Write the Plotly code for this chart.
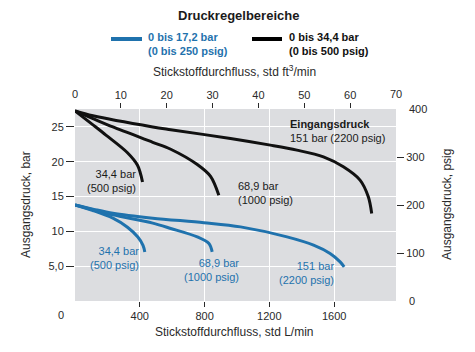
import plotly.graph_objects as go

# ---- data (flow in std L/min, outlet pressure in bar) ----
black_344_flow = [0, 111, 193, 324, 386, 417]
black_344_bar = [27.3, 25.3, 23.8, 21.3, 19.5, 17.1]
black_689_flow = [0, 111, 234, 480, 591, 755, 837, 888]
black_689_bar = [27.3, 26.2, 25.0, 22.8, 21.8, 19.6, 17.9, 15.2]
black_151_flow = [0, 111, 480, 591, 960, 1206, 1370, 1534, 1657, 1760, 1811, 1832]
black_151_bar = [27.3, 26.6, 25.0, 24.6, 23.35, 22.39, 21.67, 20.7, 19.27, 17.36, 14.96, 12.57]

blue_344_flow = [0, 111, 234, 324, 388, 420, 431]
blue_344_bar = [13.8, 13.0, 11.9, 10.6, 9.2, 8.0, 7.05]
blue_689_flow = [0, 111, 234, 480, 591, 755, 827, 847]
blue_689_bar = [13.8, 13.1, 12.37, 11.18, 10.42, 9.21, 8.26, 7.05]
blue_151_flow = [0, 111, 234, 480, 796, 1022, 1309, 1473, 1575, 1637, 1662]
blue_151_bar = [13.8, 13.2, 12.6, 11.9, 11.25, 10.65, 9.21, 8.02, 6.82, 5.62, 4.9]

bottom_ticks = [400, 800, 1200, 1600]
top_ticks = [10, 20, 30, 40, 50, 60]
left_ticks = [5, 10, 15, 20, 25]
left_ticktext = ["5,0", "10", "15", "20", "25"]
right_ticks = [100, 200, 300]

X_MAX_LMIN = 1982   # = 70 ft3/min
Y_MAX_BAR = 27.58   # = 400 psig

BLUE = "#1f72ad"
BLACK = "#111111"
TXT = "#2a2a2a"
FONT = "Liberation Sans, Arial, sans-serif"

fig = go.Figure()
curves = [
    (black_344_flow, black_344_bar, BLACK),
    (black_689_flow, black_689_bar, BLACK),
    (black_151_flow, black_151_bar, BLACK),
    (blue_344_flow, blue_344_bar, BLUE),
    (blue_689_flow, blue_689_bar, BLUE),
    (blue_151_flow, blue_151_bar, BLUE),
]
for fx, fy, c in curves:
    fig.add_trace(go.Scatter(x=fx, y=fy, mode="lines",
                             line=dict(color=c, width=3, shape="spline", smoothing=0.9),
                             showlegend=False, hoverinfo="skip"))
# empty trace to activate secondary axes
fig.add_trace(go.Scatter(x=[], y=[], xaxis="x2", yaxis="y2", showlegend=False))

fig.update_layout(
    width=475, height=352,
    margin=dict(l=75, r=79, t=109, b=51),
    paper_bgcolor="white",
    plot_bgcolor="#dcdde0",
    font=dict(family=FONT, size=11, color=TXT),
    xaxis=dict(range=[0, X_MAX_LMIN], tickvals=bottom_ticks, ticks="outside",
               ticklen=5, tickcolor=TXT, showgrid=True, gridcolor="white",
               gridwidth=1, zeroline=False, showline=False,
               tickfont=dict(size=11, color=TXT)),
    xaxis2=dict(range=[0, 70], overlaying="x", side="top", anchor="y",
                tickvals=top_ticks, ticks="outside", ticklen=5, tickcolor=TXT,
                showgrid=False, zeroline=False, showline=False,
                tickfont=dict(size=11, color=TXT)),
    yaxis=dict(range=[0, Y_MAX_BAR], tickvals=left_ticks, ticktext=left_ticktext,
               ticks="outside", ticklen=8, tickcolor=TXT, showgrid=True,
               gridcolor="white", gridwidth=1, zeroline=False, showline=False,
               tickfont=dict(size=11, color=TXT)),
    yaxis2=dict(range=[0, 400], overlaying="y", side="right", anchor="x",
                tickvals=right_ticks, ticks="outside", ticklen=7, tickcolor=TXT,
                showgrid=False, zeroline=False, showline=False,
                tickfont=dict(size=11, color=TXT)),
)

def px_x(p):
    return (p - 75) / 321.0

def px_y(p):
    return (301 - p) / 192.0

C = dict(xanchor="center", yanchor="middle", showarrow=False)
ann = []
# title and legend
ann.append(dict(text="<b>Druckregelbereiche</b>", x=px_x(239), y=px_y(15),
                xref="paper", yref="paper", font=dict(size=13, color="#1a1a1a"), **C))
ann.append(dict(text="<b>0 bis 17,2 bar<br>(0 bis 250 psig)</b>", x=px_x(146), y=px_y(44),
                xref="paper", yref="paper", showarrow=False, xanchor="left", yanchor="middle",
                align="left", font=dict(size=11, color=BLUE)))
ann.append(dict(text="<b>0 bis 34,4 bar<br>(0 bis 500 psig)</b>", x=px_x(287), y=px_y(44),
                xref="paper", yref="paper", showarrow=False, xanchor="left", yanchor="middle",
                align="left", font=dict(size=11, color="#111111")))
# axis titles
ann.append(dict(text="Stickstoffdurchfluss, std ft<sup>3</sup>/min", x=px_x(234), y=px_y(71),
                xref="paper", yref="paper", font=dict(size=12, color=TXT), **C))
ann.append(dict(text="Stickstoffdurchfluss, std L/min", x=px_x(234), y=px_y(332),
                xref="paper", yref="paper", font=dict(size=12, color=TXT), **C))
ann.append(dict(text="Ausgangsdruck, bar", x=px_x(26), y=px_y(205), textangle=-90,
                xref="paper", yref="paper", font=dict(size=12, color=TXT), **C))
ann.append(dict(text="Ausgangsdruck, psig", x=px_x(447), y=px_y(204), textangle=-90,
                xref="paper", yref="paper", font=dict(size=12, color=TXT), **C))
# edge tick labels
ann.append(dict(text="0", x=px_x(61), y=px_y(315), xref="paper", yref="paper", **C))
ann.append(dict(text="0", x=0, y=px_y(94), xref="x2", yref="paper", **C))
ann.append(dict(text="70", x=70, y=px_y(94), xref="x2", yref="paper", **C))
ann.append(dict(text="400", x=px_x(407), y=400, xref="paper", yref="y2", xanchor="left",
                yanchor="middle", showarrow=False))
ann.append(dict(text="0", x=px_x(407), y=0, xref="paper", yref="y2", xanchor="left",
                yanchor="middle", showarrow=False))
# curve labels
def lab(text, x, y, anchor, color):
    return dict(text=text, x=x, y=y, xref="x", yref="y", showarrow=False,
                xanchor=anchor, yanchor="middle", align=anchor,
                font=dict(size=11, color=color))

ann.append(lab("34,4 bar<br>(500 psig)", 388, 17.3, "right", "#1a1a1a"))
ann.append(lab("68,9 bar<br>(1000 psig)", 997, 15.5, "left", "#1a1a1a"))
ann.append(lab("<b>Eingangsdruck</b><br>151 bar (2200 psig)", 1317, 24.4, "left", "#1a1a1a"))
ann.append(lab("34,4 bar<br>(500 psig)", 406, 6.15, "right", BLUE))
ann.append(lab("68,9 bar<br>(1000 psig)", 1028, 4.4, "right", BLUE))
ann.append(lab("151 bar<br>(2200 psig)", 1612, 4.0, "right", BLUE))
fig.update_layout(annotations=ann)

# legend swatches
fig.add_shape(type="line", xref="paper", yref="paper", x0=px_x(111), x1=px_x(142),
              y0=px_y(39), y1=px_y(39), line=dict(color=BLUE, width=4))
fig.add_shape(type="line", xref="paper", yref="paper", x0=px_x(252), x1=px_x(282),
              y0=px_y(39), y1=px_y(39), line=dict(color="#000000", width=4))

fig.write_html("out.html")
